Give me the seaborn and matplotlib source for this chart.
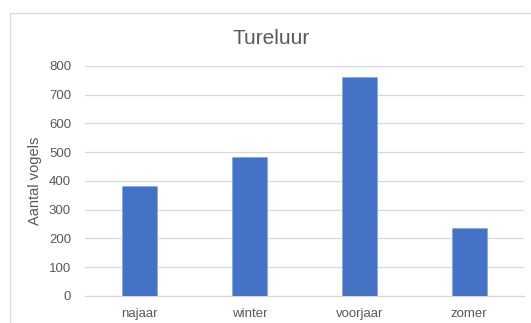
import matplotlib
matplotlib.use('Agg')
import matplotlib.pyplot as plt
import seaborn as sns
import pandas as pd
from matplotlib.patches import Rectangle

seizoen = ['najaar', 'winter', 'voorjaar', 'zomer']
aantal = [382, 484, 760, 237]
y_ticks = [0, 100, 200, 300, 400, 500, 600, 700, 800]

df = pd.DataFrame({'seizoen': seizoen, 'aantal': aantal})

sns.set_theme(style='white')
plt.rcParams['font.family'] = ['Liberation Sans', 'DejaVu Sans']

fig = plt.figure(figsize=(5.31, 3.23), dpi=100, facecolor='white')
ax = fig.add_axes([0.160, 0.0836, 0.827, 0.7124])

sns.barplot(data=df, x='seizoen', y='aantal', color='#4472C4', saturation=1,
            width=0.32, ax=ax, zorder=3, edgecolor='#8FAADC', linewidth=0.6)

ax.set_ylim(0, 800)
ax.set_yticks(y_ticks)
ax.set_xlim(-0.5, 3.5)
ax.yaxis.grid(True, color='#D9D9D9', linewidth=0.9, zorder=0)
ax.set_axisbelow(True)
for s in ['top', 'right', 'left']:
    ax.spines[s].set_visible(False)
ax.spines['bottom'].set_color('#D9D9D9')
ax.spines['bottom'].set_linewidth(0.9)
ax.tick_params(axis='y', length=0, labelsize=9.5, colors='#595959', pad=10)
ax.tick_params(axis='x', length=0, labelsize=9.5, colors='#595959', pad=9)
ax.set_xlabel('')
ax.set_ylabel('Aantal vogels', fontsize=10.5, color='#595959', labelpad=5)
fig.text(0.511, 0.882, 'Tureluur', ha='center', va='center', fontsize=15, color='#595959')

# chart frame
fig.patches.append(Rectangle((10 / 531, -0.05), 1.0, 1 - 13 / 323 + 0.05,
                             transform=fig.transFigure, fill=False,
                             edgecolor='#D9D9D9', linewidth=0.9))

fig.savefig('out.png', dpi=100, facecolor='white')
